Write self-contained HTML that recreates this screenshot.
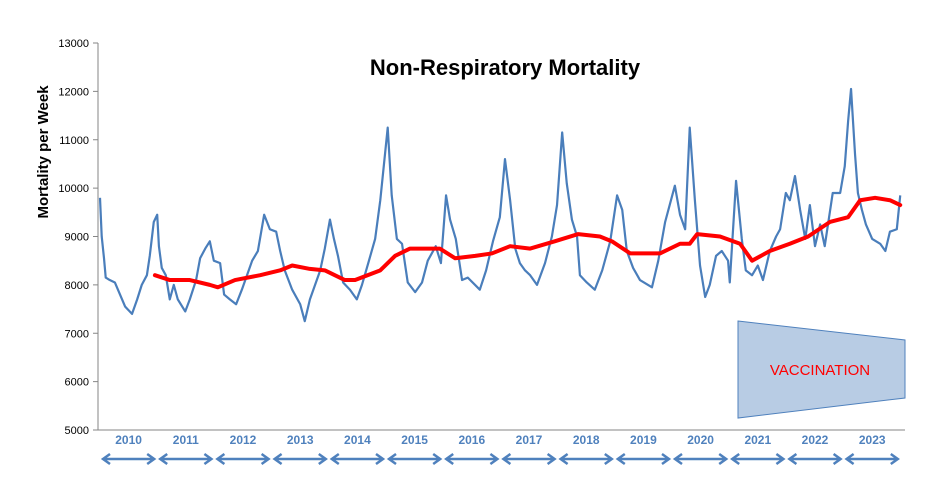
<!DOCTYPE html>
<html><head><meta charset="utf-8"><style>
body{margin:0;background:#fff;}
svg{display:block;font-family:"Liberation Sans",sans-serif;}
</style></head><body>
<svg id="c" width="945" height="497" viewBox="0 0 945 497">
<text x="505" y="75" text-anchor="middle" font-size="22" font-weight="bold">Non-Respiratory Mortality</text>
<text transform="translate(48,152) rotate(-90)" text-anchor="middle" font-size="15" font-weight="bold">Mortality per Week</text>
<polygon points="738,321 905,340 905,398 738,418" fill="#b8cce4" stroke="#4f81bd" stroke-width="1"/>
<text x="820" y="375" text-anchor="middle" font-size="15" fill="#ff0000">VACCINATION</text>
<g id="axes"></g>
<g id="marks"></g>
</svg>
<script>
const yTicks = [5000, 6000, 7000, 8000, 9000, 10000, 11000, 12000, 13000];
const years = [2010,2011,2012,2013,2014,2015,2016,2017,2018,2019,2020,2021,2022,2023];
const yearLabels = ["2010","2011","2012","2013","2014","2015","2016","2017","2018","2019","2020","2021","2022","2023"];
const weeklyDates = [0.00,0.03,0.07,0.10,0.17,0.26,0.35,0.44,0.56,0.65,0.73,0.82,0.87,0.94,1.00,1.03,1.08,1.15,1.22,1.29,1.36,1.49,1.57,1.68,1.75,1.84,1.92,1.99,2.10,2.17,2.27,2.38,2.48,2.57,2.66,2.76,2.87,2.97,3.08,3.15,3.23,3.36,3.50,3.58,3.67,3.76,3.85,3.93,4.02,4.09,4.16,4.25,4.37,4.49,4.58,4.69,4.81,4.90,5.03,5.10,5.19,5.28,5.38,5.51,5.63,5.73,5.87,5.96,6.05,6.12,6.22,6.33,6.43,6.64,6.75,6.87,6.99,7.08,7.17,7.26,7.34,7.43,7.52,7.64,7.78,7.90,7.99,8.08,8.16,8.25,8.34,8.39,8.51,8.65,8.78,8.92,9.04,9.13,9.21,9.32,9.44,9.65,9.76,9.88,10.05,10.14,10.23,10.31,10.40,10.49,10.58,10.66,10.77,10.87,10.98,11.01,11.12,11.22,11.29,11.40,11.50,11.59,11.71,11.82,11.89,11.99,12.06,12.15,12.24,12.33,12.41,12.50,12.59,12.67,12.81,12.94,13.02,13.08,13.13,13.20,13.25,13.32,13.39,13.50,13.64,13.73,13.81,13.93,13.99];
const weeklyValues = [9800,9000,8550,8150,8100,8050,7800,7550,7400,7700,8000,8200,8600,9300,9450,8800,8350,8200,7700,8000,7700,7450,7700,8100,8550,8750,8900,8500,8450,7800,7700,7600,7900,8200,8500,8700,9450,9150,9100,8700,8300,7900,7600,7250,7700,8000,8300,8750,9350,8950,8600,8050,7900,7700,8000,8450,8950,9750,11250,9850,8950,8850,8050,7850,8050,8500,8800,8450,9850,9350,8950,8100,8150,7900,8300,8900,9400,10600,9750,8750,8450,8300,8200,8000,8450,9000,9650,11150,10100,9350,9000,8200,8050,7900,8300,8900,9850,9550,8700,8350,8100,7950,8500,9300,10050,9450,9150,11250,9750,8400,7750,8000,8600,8700,8500,8050,10150,8950,8300,8200,8400,8100,8700,9000,9150,9900,9750,10250,9550,8950,9650,8800,9250,8800,9900,9900,10450,11400,12050,10700,9900,9550,9250,8950,8850,8700,9100,9150,9850];
const avgDates = [0.96,1.22,1.57,1.92,2.06,2.36,2.80,3.15,3.36,3.67,3.93,4.28,4.46,4.90,5.16,5.42,5.94,6.21,6.56,6.85,7.17,7.52,7.95,8.36,8.74,8.95,9.27,9.79,10.14,10.31,10.44,10.84,11.19,11.40,11.71,12.06,12.38,12.76,13.08,13.29,13.55,13.81,13.99];
const avgValues = [8200,8100,8100,8000,7950,8100,8200,8300,8400,8330,8300,8100,8100,8300,8600,8750,8750,8550,8600,8650,8800,8750,8900,9050,9000,8900,8650,8650,8850,8850,9050,9000,8850,8500,8700,8850,9000,9300,9400,9750,9800,9750,9650];

const NS = "http://www.w3.org/2000/svg";
const X0 = 100, YW = 57.2, Y0 = 430, YS = 387/8000;
function xScale(t){ return X0 + t*YW; }
function yScale(v){ return Y0 - (v-5000)*YS; }
function mk(tag, attrs, parent){ const e=document.createElementNS(NS,tag); for(const k in attrs) e.setAttribute(k,attrs[k]); parent.appendChild(e); return e; }
const axes=document.getElementById('axes'), marks=document.getElementById('marks');

const yAxis = mk('line',{x1:98,y1:yScale(13000),x2:98,y2:Y0,stroke:'#868686','stroke-width':1},axes);


const xAxis = mk('line',{x1:98,y1:Y0,x2:905,y2:Y0,stroke:'#868686','stroke-width':1},axes);


yTicks.forEach(v=>{
  const y=yScale(v);
  const tk=mk('line',{x1:93,y1:y,x2:98,y2:y,stroke:'#868686'},axes);
  
  
  const tx=mk('text',{x:89,y:y+4,'text-anchor':'end','font-size':11},axes);
  tx.textContent=v;
  
  
});
years.forEach((yr,i)=>{
  const t=yr-2010, xs=xScale(t), xe=xScale(t+1), xc=(xs+xe)/2;
  const tx=mk('text',{x:xc,y:444,'text-anchor':'middle','font-size':12,'font-weight':'bold',fill:'#4f81bd'},axes);
  tx.textContent=yearLabels[i];
  
  
  const a1=xs+3, a2=xe-3, ay=459;
  const ar=mk('path',{d:`M${a1+7},${ay-5} L${a1},${ay} L${a1+7},${ay+5} M${a1},${ay} L${a2},${ay} M${a2-7},${ay-5} L${a2},${ay} L${a2-7},${ay+5}`,stroke:'#4f81bd','stroke-width':2.5,fill:'none'},axes);
  
  
});
const bl=mk('polyline',{points:weeklyDates.map((t,i)=>xScale(t)+','+yScale(weeklyValues[i])).join(' '),fill:'none',stroke:'#4a7ebb','stroke-width':2.2,'stroke-linejoin':'round'},marks);


const rl=mk('polyline',{points:avgDates.map((t,i)=>xScale(t)+','+yScale(avgValues[i])).join(' '),fill:'none',stroke:'#ff0000','stroke-width':4,'stroke-linejoin':'round','stroke-linecap':'round'},marks);


</script>
</body></html>
